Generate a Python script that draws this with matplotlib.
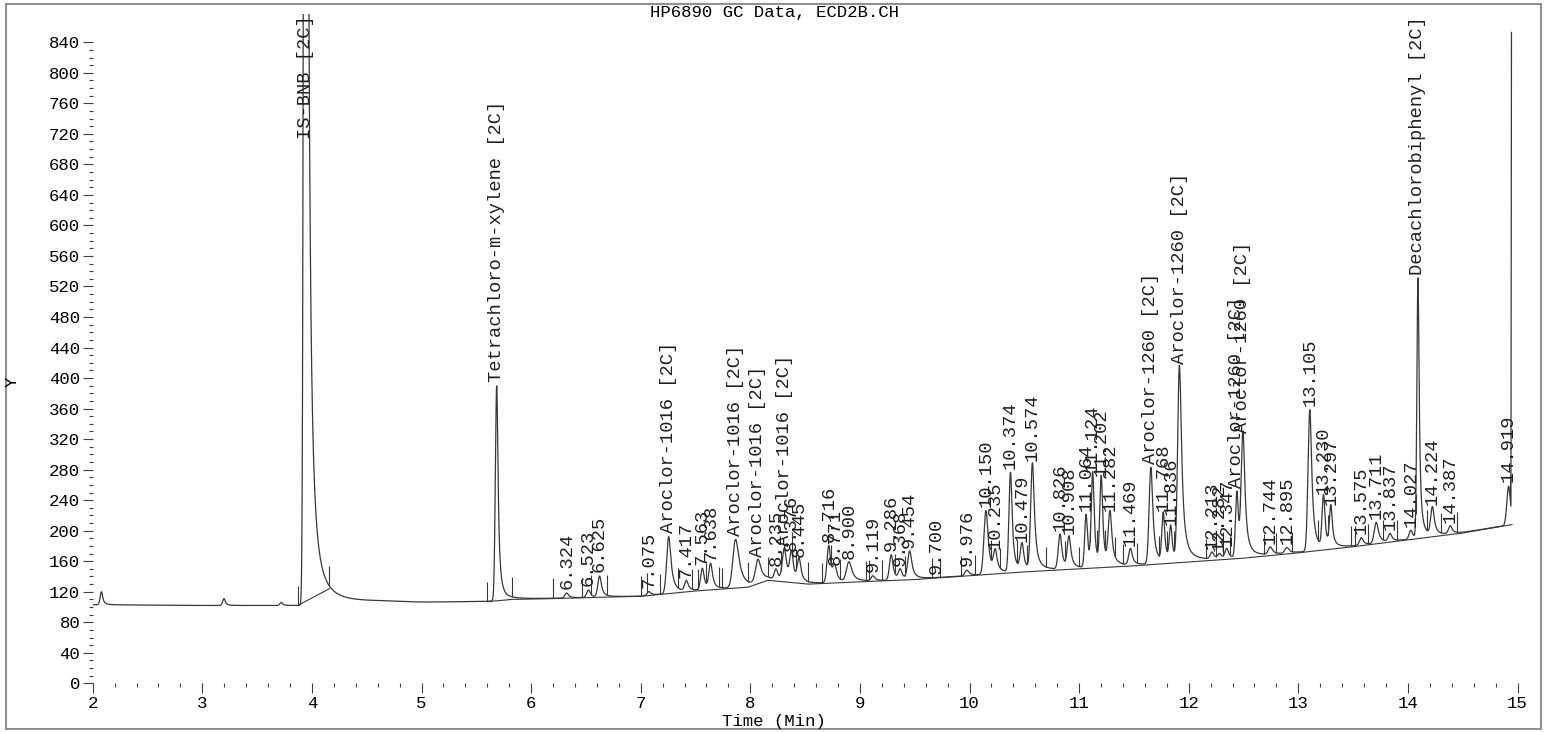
import numpy as np
import matplotlib.pyplot as plt
from matplotlib.patches import Rectangle

plt.rcParams['font.family'] = ['Liberation Mono', 'DejaVu Sans Mono']

# labelled peaks: retention time (min), apex signal, label text
peak_times = [3.940, 5.686, 6.324, 6.523, 6.625, 7.075, 7.255, 7.417, 7.563, 7.638,
              7.865, 8.070, 8.235, 8.310, 8.376, 8.445, 8.716, 8.771, 8.900, 9.119,
              9.286, 9.368, 9.454, 9.700, 9.976, 10.150, 10.235, 10.374, 10.479, 10.574,
              10.826, 10.908, 11.064, 11.124, 11.202, 11.282, 11.469, 11.655, 11.768, 11.836,
              11.915, 12.213, 12.282, 12.347, 12.440, 12.495, 12.744, 12.895, 13.105, 13.230,
              13.297, 13.575, 13.711, 13.837, 14.027, 14.092, 14.224, 14.387, 14.919]
peak_apex = [3000, 390, 118, 122, 140, 120, 192, 133, 150, 155,
             188, 160, 148, 175, 168, 160, 180, 150, 158, 140,
             168, 148, 172, 138, 148, 226, 170, 275, 180, 286,
             194, 190, 220, 272, 266, 220, 175, 282, 220, 202,
             413, 170, 168, 175, 250, 323, 177, 177, 358, 242,
             228, 190, 210, 195, 200, 530, 228, 205, 258]
peak_labels = ["IS-BNB [2C]", "Tetrachloro-m-xylene [2C]", "6.324", "6.523", "6.625",
               "7.075", "Aroclor-1016 [2C]", "7.417", "7.563", "7.638",
               "Aroclor-1016 [2C]", "Aroclor-1016 [2C]", "8.235", "Aroclor-1016 [2C]", "8.376",
               "8.445", "8.716", "8.771", "8.900", "9.119",
               "9.286", "9.368", "9.454", "9.700", "9.976",
               "10.150", "10.235", "10.374", "10.479", "10.574",
               "10.826", "10.908", "11.064", "11.124", "11.202",
               "11.282", "11.469", "Aroclor-1260 [2C]", "11.768", "11.836",
               "Aroclor-1260 [2C]", "12.213", "12.282", "12.347", "Aroclor-1260 [2C]",
               "Aroclor-1260 [2C]", "12.744", "12.895", "13.105", "13.230",
               "13.297", "13.575", "13.711", "13.837", "14.027",
               "Decachlorobiphenyl [2C]", "14.224", "14.387", "14.919"]
# rising side width and tailing width (min)
peak_rise = [0.012, 0.012, 0.016, 0.016, 0.016, 0.016, 0.018, 0.016, 0.016, 0.016,
             0.024, 0.022, 0.016, 0.018, 0.016, 0.016, 0.016, 0.016, 0.022, 0.016,
             0.016, 0.016, 0.018, 0.016, 0.018, 0.018, 0.016, 0.014, 0.016, 0.016,
             0.016, 0.016, 0.013, 0.013, 0.013, 0.016, 0.016, 0.016, 0.013, 0.013,
             0.016, 0.016, 0.016, 0.016, 0.013, 0.016, 0.018, 0.018, 0.016, 0.013,
             0.013, 0.016, 0.018, 0.016, 0.016, 0.010, 0.016, 0.016, 0.016]
peak_tail = [0.020, 0.015, 0.020, 0.020, 0.020, 0.020, 0.026, 0.020, 0.020, 0.020,
             0.040, 0.032, 0.020, 0.024, 0.020, 0.020, 0.020, 0.020, 0.032, 0.020,
             0.020, 0.020, 0.024, 0.020, 0.024, 0.024, 0.020, 0.018, 0.020, 0.021,
             0.020, 0.020, 0.016, 0.016, 0.016, 0.020, 0.020, 0.021, 0.016, 0.016,
             0.024, 0.020, 0.020, 0.020, 0.016, 0.021, 0.024, 0.024, 0.021, 0.016,
             0.016, 0.020, 0.024, 0.020, 0.020, 0.013, 0.020, 0.020, 0.020]

# small unlabelled bumps
minor_times = [2.080, 3.198, 3.720]
minor_apex = [120, 111, 106]

# detector drift under the trace
base_times = [2.0, 3.0, 3.87, 4.6, 5.0, 5.6, 5.83, 6.2, 6.7, 7.0, 7.5, 7.98, 8.16, 8.53,
              9.0, 9.5, 10.0, 10.5, 11.0, 11.5, 12.0, 12.5, 13.0, 13.5, 14.0, 14.5, 14.95]
base_values = [103, 102, 102, 106, 105.5, 107, 110, 111, 113, 114, 121, 126, 135, 130,
               133, 136, 141, 146, 150, 154, 159, 164, 171, 179, 188, 197, 208]

# solvent-peak baseline segment
solvent_base_times = [3.87, 4.16]
solvent_base_values = [102, 124]

# integration event marks
mark_times = [3.87, 4.16, 5.60, 5.83, 6.20, 6.46, 6.55, 6.69, 7.00, 7.06, 7.18, 7.34,
              7.47, 7.52, 7.60, 7.71, 7.74, 7.98, 8.16, 8.28, 8.38, 8.42, 8.53, 8.65,
              8.74, 8.82, 9.06, 9.08, 9.20, 9.32, 9.41, 9.66, 9.73, 9.92, 10.05, 10.20,
              10.28, 10.43, 10.52, 10.70, 10.87, 11.00, 11.10, 11.16, 11.24, 11.33, 11.40,
              11.53, 11.73, 11.80, 11.87, 12.16, 12.25, 12.31, 12.38, 12.47, 12.69, 12.80,
              12.94, 13.18, 13.27, 13.48, 13.52, 13.64, 13.77, 13.90, 14.07, 14.17, 14.30,
              14.45, 14.93]

# end of run: signal climbs off scale
end_time = 14.945
end_value = 853

line_color = "#383838"


def base_at(t):
    return np.interp(t, base_times, base_values)


def peak_shape(t, t0, h, w, g):
    d = t - t0
    return np.where(d < 0, h * np.exp(-0.5 * (d / w) ** 2), h / (1 + (d / g) ** 2))


t = np.linspace(2.0, 14.94, 8000)
signal = base_at(t)
for t0, a, w, g in zip(peak_times, peak_apex, peak_rise, peak_tail):
    signal = signal + peak_shape(t, t0, a - base_at(t0), w, g)
for t0, a in zip(minor_times, minor_apex):
    signal = signal + peak_shape(t, t0, a - base_at(t0), 0.012, 0.014)
t = np.append(t, end_time)
signal = np.append(signal, end_value)

fig = plt.figure(figsize=(15.48, 7.32), dpi=100)
ax = fig.add_axes([0.0599, 0.0665, 0.9204, 0.9143])

ax.plot(t, signal, color=line_color, linewidth=0.9)
seg = np.array(base_times) >= 5.6
ax.plot(np.array(base_times)[seg], np.array(base_values)[seg], color=line_color, linewidth=0.8)
ax.plot(solvent_base_times, solvent_base_values, color=line_color, linewidth=0.8)

mark_levels = np.interp(mark_times, t, signal)
ax.vlines(mark_times, mark_levels, mark_levels + 26, color=line_color, linewidth=0.8)

ax.set_xlim(2, 15)
ax.set_ylim(0, 877)

for t0, a, lab in zip(peak_times, peak_apex, peak_labels):
    if a > 877:
        ax.text(t0, 875, lab, rotation=90, ha="center", va="top", fontsize=13.5,
                color="#202020")
    else:
        ax.annotate(lab, (t0, a), xytext=(0, 3), textcoords="offset points",
                    rotation=90, ha="center", va="bottom", fontsize=13.5, color="#202020")

for s in ax.spines.values():
    s.set_visible(False)
ax.set_xticks(range(2, 16))
ax.set_xticks(np.arange(2, 15.01, 0.2), minor=True)
ax.set_yticks(range(0, 841, 40))
ax.set_yticks(range(0, 841, 10), minor=True)
ax.tick_params(which="major", length=7, width=0.8, color="#404040", labelsize=12.5, pad=2)
ax.tick_params(which="minor", length=3, width=0.8, color="#404040")

fig.text(0.5, 0.983, "HP6890 GC Data, ECD2B.CH", ha="center", va="center", fontsize=12.5)
fig.text(0.5, 0.014, "Time (Min)", ha="center", va="center", fontsize=12.5)
fig.text(0.008, 0.478, "Y", ha="center", va="center", rotation=90, fontsize=12.5)

fig.patches.append(Rectangle((6 / 1548, 3 / 732), 1535 / 1548, 725 / 732,
                             transform=fig.transFigure, fill=False,
                             edgecolor="#909090", linewidth=1.5))

fig.savefig("out.png", dpi=100)
